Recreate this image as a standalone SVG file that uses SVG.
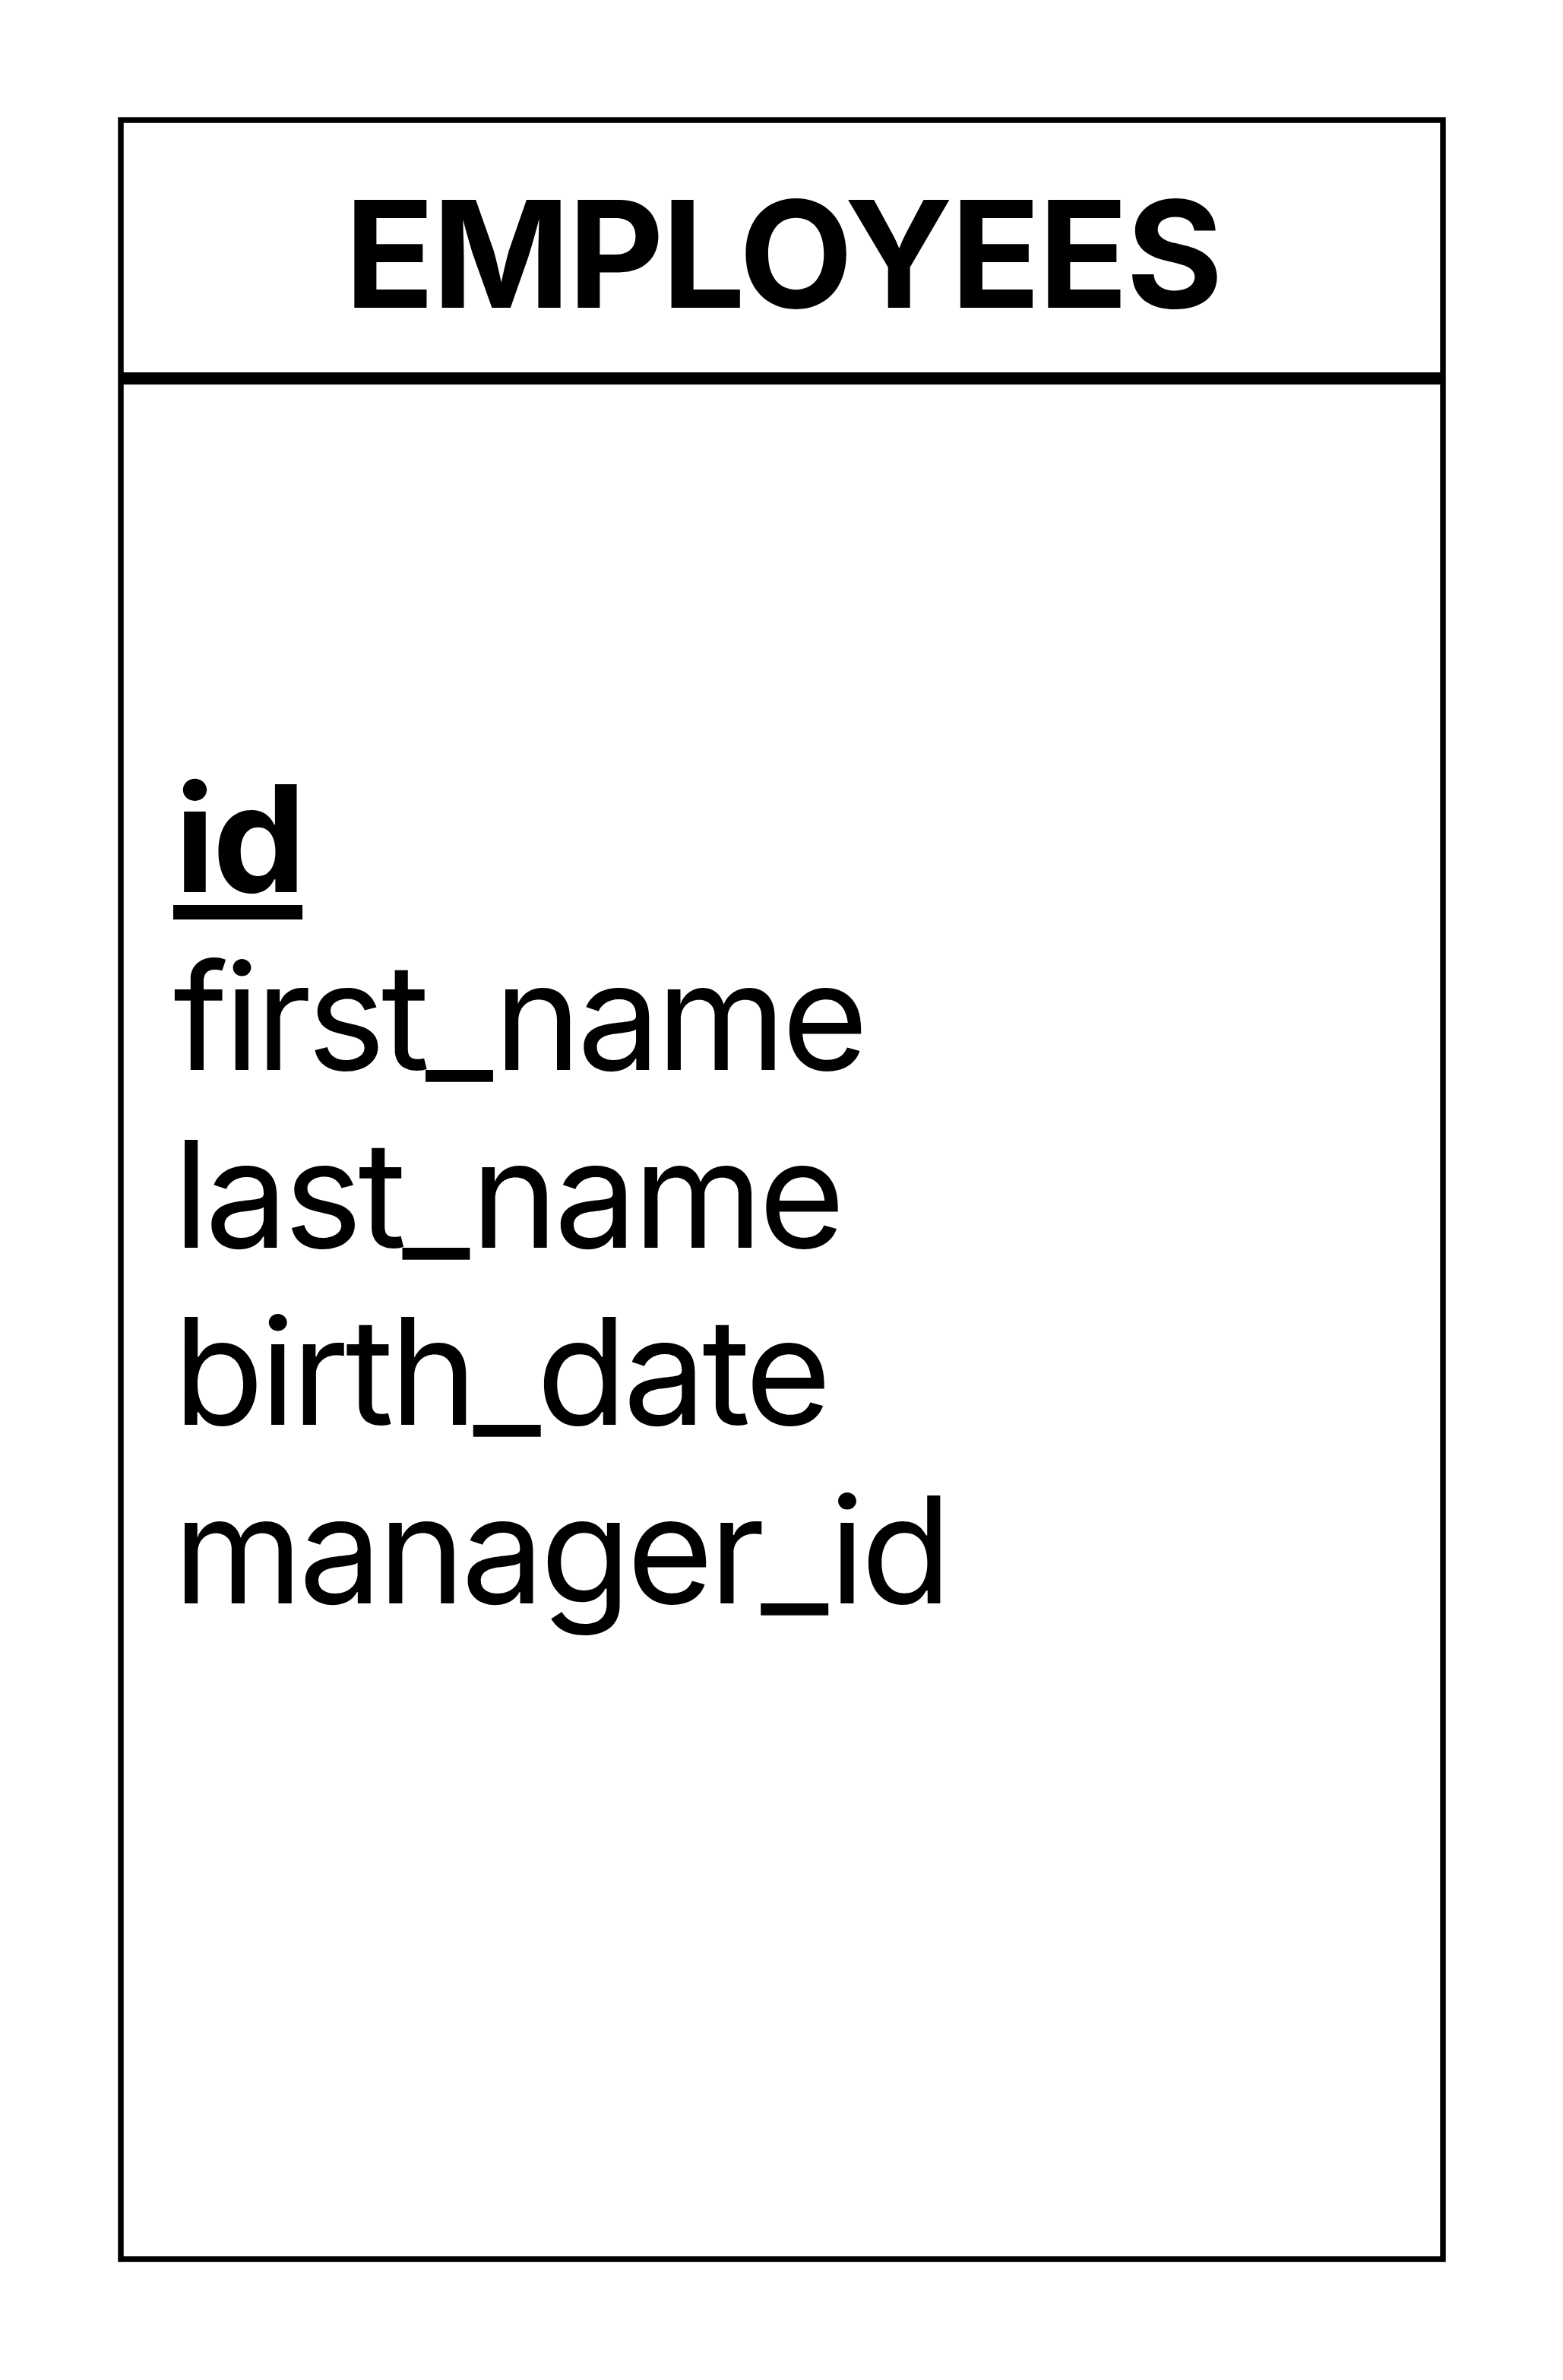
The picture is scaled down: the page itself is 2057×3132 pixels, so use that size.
<svg xmlns="http://www.w3.org/2000/svg" width="2057" height="3132" viewBox="0 0 2057 3132">
<style>
.box{fill:#fff;stroke:#000;stroke-width:7.5}
.div{stroke:#000;stroke-width:16}
.title{font-family:Inter,"Liberation Sans",sans-serif;font-weight:700;font-size:195px;fill:#000;letter-spacing:-3px}
.attr{font-family:Inter,"Liberation Sans",sans-serif;font-weight:400;font-size:195px;fill:#000;letter-spacing:-5.5px}
.pk{font-weight:700;letter-spacing:-3px}
</style>
<rect width="2057" height="3132" fill="#fff"/>
<g id="employees">
<rect class="box" x="159" y="158" width="1740" height="2815"/>
<line class="div" x1="159" y1="498" x2="1899" y2="498"/>
<text class="title" x="1030" y="405" text-anchor="middle">EMPLOYEES</text>
<text class="attr pk" x="230" y="1174">id</text>
<rect x="228" y="1191" width="170" height="19" fill="#000"/>
<text class="attr" x="228" y="1408">first_name</text>
<text class="attr" x="228" y="1642">last_name</text>
<text class="attr" x="228" y="1875">birth_date</text>
<text class="attr" x="228" y="2110">manager_id</text>
</g>
<g id="connectors"/>
</svg>
